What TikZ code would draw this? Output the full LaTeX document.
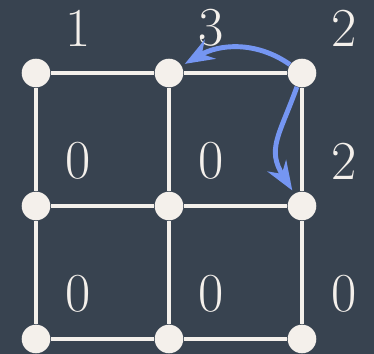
\documentclass[tikz,border=0pt]{standalone}
\usetikzlibrary{arrows.meta}
\definecolor{slate}{HTML}{384350}
\definecolor{chalk}{HTML}{F4F0EB}
\definecolor{cornflower}{HTML}{7596F2}

\begin{document}
\begin{tikzpicture}[x=2cm,y=-2cm,font=\fontsize{23.5}{27}\selectfont,text=chalk,
    dot/.style={circle,fill=chalk,minimum size=0.43cm,inner sep=0pt},
    wire/.style={chalk,line width=1.7pt},
    hop/.style={cornflower,line width=2.1pt,-{Stealth},shorten >=1.5pt}]
  \fill[slate] (-0.2707,-0.5489) rectangle (2.5414,2.1128);
  \useasboundingbox (-0.2707,-0.5489) rectangle (2.5414,2.1128);

  % dots and their values
  \foreach \c/\r/\v in {0/0/1,1/0/3,2/0/2,0/1/0,1/1/0,2/1/2,0/2/0,1/2/0,2/2/0} {
    \node[dot] (d\c\r) at (\c,\r) {};
    \node[shift={(0.316,-0.338)}] (n\c\r) at (\c,\r) {\v};
  }

  % grid edges
  \foreach \a in {0,1,2}
    \foreach \b/\bb in {0/1,1/2} {
      \draw[wire] (d\b\a) -- (d\bb\a);
      \draw[wire] (d\a\b) -- (d\a\bb);
    }

  % moves from the corner
  \draw[hop] (d20) to[out=145,in=30] (d10);
  \draw[hop] (d20) to[out=250,in=122,looseness=1.25] (d21);
\end{tikzpicture}
\end{document}
